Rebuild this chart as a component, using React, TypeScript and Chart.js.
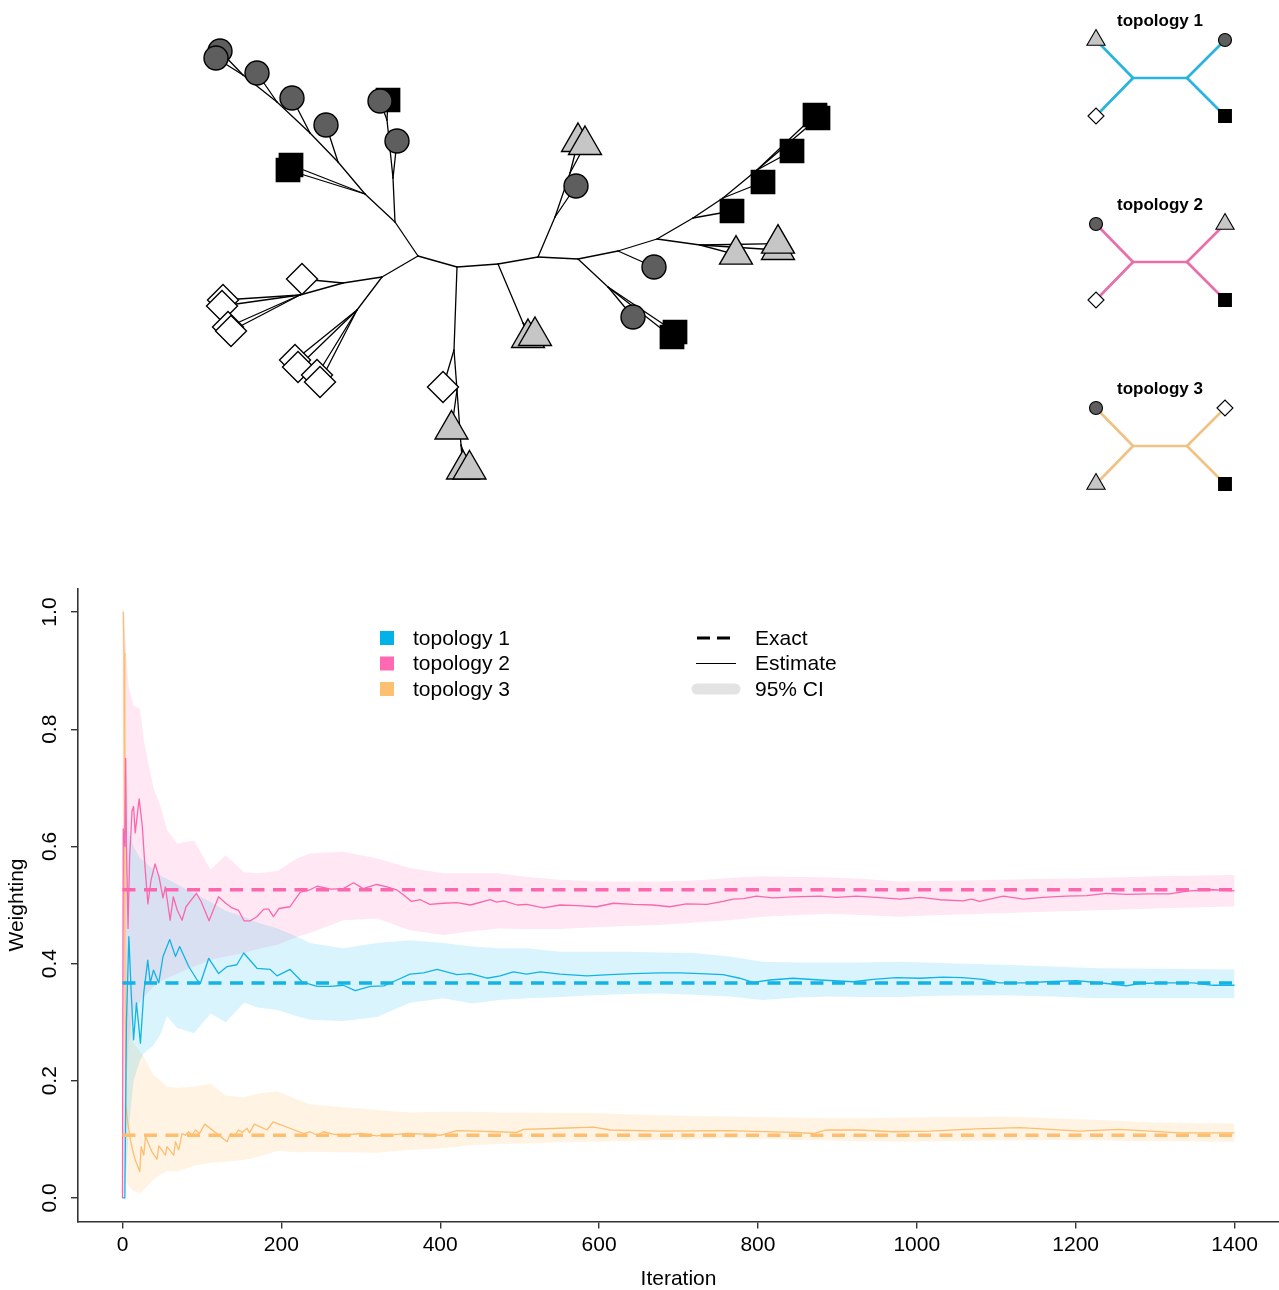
import React, { useEffect, useRef } from 'react';
import { Chart, registerables } from 'chart.js';
Chart.register(...registerables);

const FONT = '"Liberation Sans", Arimo, Arial, Helvetica, sans-serif';
const AXIS = '#333333';

// ---------------- weighting chart data ----------------
const xTickValues = [0, 200, 400, 600, 800, 1000, 1200, 1400];
const yTickValues = [0, 0.2, 0.4, 0.6, 0.8, 1.0];
const topologyNames = ['topology 1', 'topology 2', 'topology 3'];
const topologyColors = ['#12B4E5', '#FB67AE', '#FDBF6F'];
const legendSwatchColors = ['#00B2E8', '#FF69B4', '#FDC070'];
const bandColors = ['rgba(0,178,238,0.15)', 'rgba(255,105,180,0.16)', 'rgba(253,190,110,0.19)'];
const exactWeights = [0.367, 0.526, 0.107];
const styleLegendLabels = ['Exact', 'Estimate', '95% CI'];

const ciIterations = [0, 2, 5, 8, 14, 22, 27, 39, 48, 56, 69, 90, 111, 130, 153, 170, 195, 220, 236, 278, 320, 362, 404, 440, 474, 509, 551, 593, 635, 677, 719, 764, 806, 850, 890, 930, 978, 1030, 1106, 1170, 1230, 1300, 1400];
const ciUpper1 = [0, 0, 0.75, 0.62, 0.6, 0.58, 0.575, 0.56, 0.55, 0.545, 0.535, 0.52, 0.505, 0.49, 0.48, 0.47, 0.46, 0.446, 0.435, 0.426, 0.435, 0.44, 0.435, 0.429, 0.426, 0.426, 0.42, 0.42, 0.42, 0.419, 0.418, 0.412, 0.403, 0.402, 0.402, 0.402, 0.403, 0.401, 0.398, 0.395, 0.392, 0.391, 0.39];
const ciLower1 = [0, 0, 0.05, 0.12, 0.2, 0.235, 0.247, 0.26, 0.28, 0.31, 0.29, 0.281, 0.315, 0.3, 0.333, 0.325, 0.321, 0.31, 0.304, 0.302, 0.309, 0.333, 0.341, 0.332, 0.338, 0.341, 0.343, 0.346, 0.348, 0.349, 0.347, 0.344, 0.338, 0.342, 0.344, 0.343, 0.343, 0.345, 0.346, 0.344, 0.341, 0.341, 0.341];
const ciUpper2 = [1.0, 1.0, 0.92, 0.87, 0.84, 0.835, 0.78, 0.7, 0.668, 0.628, 0.605, 0.61, 0.56, 0.585, 0.556, 0.554, 0.558, 0.58, 0.588, 0.591, 0.58, 0.563, 0.554, 0.554, 0.554, 0.548, 0.543, 0.54, 0.54, 0.54, 0.542, 0.546, 0.549, 0.548, 0.547, 0.545, 0.54, 0.541, 0.543, 0.545, 0.546, 0.549, 0.551];
const ciLower2 = [0, 0, 0.2, 0.27, 0.32, 0.335, 0.344, 0.36, 0.37, 0.375, 0.383, 0.395, 0.406, 0.412, 0.418, 0.425, 0.432, 0.446, 0.452, 0.474, 0.477, 0.457, 0.449, 0.455, 0.46, 0.459, 0.459, 0.462, 0.464, 0.466, 0.47, 0.474, 0.48, 0.483, 0.485, 0.483, 0.48, 0.483, 0.486, 0.489, 0.491, 0.494, 0.498];
const ciUpper3 = [1.0, 0.95, 0.4, 0.32, 0.264, 0.25, 0.24, 0.21, 0.2, 0.19, 0.188, 0.19, 0.195, 0.175, 0.172, 0.178, 0.182, 0.168, 0.16, 0.155, 0.15, 0.146, 0.147, 0.147, 0.146, 0.146, 0.145, 0.145, 0.143, 0.141, 0.14, 0.139, 0.138, 0.137, 0.136, 0.136, 0.137, 0.138, 0.139, 0.136, 0.133, 0.129, 0.127];
const ciLower3 = [0.9, 0.6, 0.03, 0.02, 0.012, 0.008, 0.014, 0.031, 0.04, 0.046, 0.045, 0.055, 0.06, 0.062, 0.065, 0.07, 0.08, 0.078, 0.079, 0.078, 0.077, 0.082, 0.085, 0.09, 0.092, 0.093, 0.095, 0.096, 0.097, 0.099, 0.1, 0.102, 0.101, 0.099, 0.098, 0.097, 0.096, 0.097, 0.098, 0.099, 0.098, 0.097, 0.096];

// [iteration, estimate]
const estimate1 = [[0, 0], [3, 0], [5, 0.3], [8, 0.446], [11, 0.35], [14, 0.27], [17.6, 0.333], [22.6, 0.264], [26.8, 0.35], [31.8, 0.406], [35, 0.367], [39, 0.389], [45.7, 0.367], [51, 0.412], [59.5, 0.441], [66.7, 0.412], [72, 0.429], [83.4, 0.395], [94, 0.372], [98, 0.366], [108.6, 0.409], [121, 0.383], [131.7, 0.395], [144, 0.398], [152.6, 0.418], [169.4, 0.392], [186, 0.39], [194.6, 0.379], [211, 0.39], [226, 0.369], [245, 0.361], [261.6, 0.361], [278, 0.363], [293, 0.354], [312, 0.361], [329, 0.362], [345.5, 0.372], [362, 0.382], [379, 0.384], [396, 0.39], [421, 0.381], [438, 0.383], [459, 0.375], [475.5, 0.379], [492, 0.386], [509, 0.382], [526, 0.386], [551, 0.382], [584.5, 0.379], [614, 0.381], [643, 0.383], [677, 0.384], [702, 0.384], [727, 0.383], [756, 0.381], [777, 0.375], [794, 0.368], [815, 0.372], [844, 0.375], [878, 0.372], [920, 0.369], [945, 0.373], [974, 0.376], [1004, 0.375], [1033, 0.377], [1058, 0.376], [1083, 0.373], [1104, 0.367], [1138, 0.367], [1163, 0.369], [1201, 0.371], [1239, 0.366], [1264, 0.362], [1280, 0.366], [1314, 0.367], [1348, 0.367], [1373, 0.363], [1400, 0.363]];
const estimate2 = [[0, 0], [1, 0.63], [3, 0.6], [4, 0.75], [5, 0.6], [7, 0.46], [9, 0.58], [12, 0.66], [14, 0.668], [16, 0.623], [21, 0.681], [25, 0.634], [28, 0.571], [32, 0.502], [36, 0.543], [41, 0.57], [46, 0.548], [51, 0.512], [54, 0.531], [60, 0.474], [64, 0.514], [69, 0.491], [75, 0.474], [80, 0.497], [93, 0.52], [99, 0.506], [109, 0.473], [121, 0.514], [130, 0.503], [138, 0.495], [146, 0.491], [153, 0.473], [161, 0.473], [169, 0.48], [178, 0.493], [184, 0.493], [190, 0.48], [197, 0.494], [211, 0.497], [218, 0.511], [224, 0.522], [236, 0.526], [245, 0.532], [262, 0.527], [278, 0.528], [291, 0.538], [303, 0.528], [320, 0.535], [333, 0.531], [345, 0.526], [354, 0.517], [364, 0.506], [375, 0.509], [387, 0.501], [404, 0.503], [421, 0.504], [438, 0.5], [463, 0.509], [471, 0.505], [480, 0.507], [497, 0.5], [509, 0.501], [530, 0.495], [551, 0.5], [572, 0.499], [597, 0.497], [618, 0.503], [643, 0.501], [668, 0.5], [689, 0.497], [710, 0.502], [736, 0.501], [756, 0.506], [769, 0.51], [782, 0.511], [798, 0.515], [819, 0.512], [844, 0.514], [878, 0.515], [899, 0.513], [924, 0.515], [949, 0.513], [979, 0.51], [1004, 0.513], [1029, 0.509], [1058, 0.507], [1069, 0.51], [1079, 0.506], [1109, 0.515], [1134, 0.51], [1159, 0.513], [1188, 0.515], [1214, 0.516], [1239, 0.52], [1264, 0.518], [1293, 0.519], [1318, 0.519], [1343, 0.524], [1373, 0.526], [1400, 0.524]];
const estimate3 = [[0, 1.0], [1, 1.0], [2, 0.93], [3, 0.4], [4, 0.16], [7, 0.125], [10, 0.099], [13, 0.08], [16, 0.065], [21.8, 0.045], [23.5, 0.0875], [26.8, 0.073], [29, 0.105], [37, 0.079], [43.6, 0.066], [45.7, 0.089], [54, 0.073], [56, 0.0875], [64.5, 0.073], [66.7, 0.096], [70.8, 0.082], [75, 0.11], [79, 0.107], [83.4, 0.113], [87.6, 0.107], [91.8, 0.116], [97, 0.11], [103.5, 0.126], [131.7, 0.096], [136, 0.11], [141, 0.106], [146, 0.116], [151, 0.112], [156.8, 0.119], [160, 0.111], [166, 0.126], [182, 0.116], [189.6, 0.13], [228, 0.11], [236, 0.113], [245, 0.107], [253, 0.113], [265, 0.109], [278, 0.107], [300, 0.11], [320, 0.106], [340, 0.108], [360, 0.11], [379, 0.109], [400, 0.107], [421, 0.115], [446, 0.114], [470, 0.113], [496.5, 0.112], [505, 0.117], [551, 0.119], [593, 0.121], [614, 0.116], [677, 0.114], [761, 0.115], [844, 0.112], [870, 0.11], [886, 0.116], [928, 0.116], [970, 0.113], [1016, 0.114], [1075, 0.118], [1130, 0.12], [1205, 0.114], [1255, 0.117], [1331, 0.111], [1400, 0.111]];

// ---------------- tree data (drawing units) ----------------
// [id, parent, x, y]
const treeNodes = [
  ['A', null, 418, 256], ['B', 'A', 457, 267], ['C', 'B', 498, 264], ['D', 'C', 538, 257],
  ['E', 'D', 578, 259], ['F', 'E', 618, 251], ['G', 'F', 657, 239],
  ['I', 'A', 395, 222], ['I2', 'I', 393, 178], ['I3', 'I2', 387, 120],
  ['J', 'I', 365, 194], ['K', 'J', 338, 162], ['K2', 'K', 310, 133], ['K3', 'K2', 277, 102], ['K4', 'K3', 243, 75],
  ['L', 'A', 382, 277], ['M', 'L', 343, 283], ['N', 'M', 300, 295], ['O', 'L', 357, 310],
  ['P', 'B', 454, 350], ['P2', 'P', 457, 390], ['P3', 'P2', 461, 445],
  ['C2', 'C', 523, 323], ['D2', 'D', 555, 217], ['D3', 'D2', 570, 173],
  ['E2', 'E', 608, 287], ['G2', 'G', 700, 245],
  ['H', 'G', 693, 218], ['H2', 'H', 723, 198], ['H3', 'H2', 757, 170],
];
// [parent, x, y, shape]
const treeTips = [
  ['I2', 397, 141, 'circle'], ['I3', 388, 100, 'square'], ['I3', 380, 101, 'circle'],
  ['J', 291, 165, 'square'], ['J', 288, 170, 'square'],
  ['K', 326, 125, 'circle'], ['K2', 292, 98, 'circle'], ['K3', 257, 73, 'circle'],
  ['K4', 220, 51, 'circle'], ['K4', 216, 58, 'circle'],
  ['M', 302, 279, 'diamond'],
  ['N', 223, 300, 'diamond'], ['N', 222, 306, 'diamond'], ['N', 228, 327, 'diamond'], ['N', 231, 331, 'diamond'],
  ['O', 295, 360, 'diamond'], ['O', 298, 367, 'diamond'], ['O', 317, 375, 'diamond'], ['O', 320, 382, 'diamond'],
  ['P', 443, 387, 'diamond'], ['P2', 451.5, 429.5, 'triangle'], ['P3', 463, 469.5, 'triangle'], ['P3', 469.5, 469.5, 'triangle'],
  ['C2', 528, 338, 'triangle'], ['C2', 535, 336, 'triangle'],
  ['D2', 576, 186, 'circle'], ['D3', 578, 142, 'triangle'], ['D3', 585, 145, 'triangle'],
  ['E2', 633, 317, 'circle'], ['E2', 672, 337, 'square'], ['E2', 675, 332, 'square'],
  ['F', 654, 267, 'circle'],
  ['G2', 736, 254.6, 'triangle'], ['G2', 778, 250, 'triangle'], ['G2', 778, 243.6, 'triangle'],
  ['H', 732, 211, 'square'], ['H2', 763, 182, 'square'], ['H3', 792, 151, 'square'],
  ['H3', 815, 115, 'square'], ['H3', 818, 118, 'square'],
];

// small topology diagrams: tips ordered [top-left, bottom-left, top-right, bottom-right]
const topoTipShapes = [
  ['triangle', 'diamond', 'circle', 'square'],
  ['circle', 'diamond', 'triangle', 'square'],
  ['circle', 'triangle', 'diamond', 'square'],
];
const topoCentreY = [78, 262, 446];
const topoInnerX = [1133, 1187];
const topoTipX = [1096, 1225];
const topoTipDY = 38;
const topoTitleX = 1160;
const topoTitleDY = -57;
const thumbColors = ['#2AB4DD', '#E96FAA', '#EEC385'];

const shapeStyles = {
  circle: { style: 'circle', fill: '#5E5E5E', r: 12, rs: 6.5 },
  square: { style: 'rect', fill: '#000000', r: 16.5, rs: 9 },
  triangle: { style: 'triangle', fill: '#C6C6C6', r: 19, rs: 10.5 },
  diamond: { style: 'rectRot', fill: '#FFFFFF', r: 15.5, rs: 8 },
};

function makeEdge(x1: number, y1: number, x2: number, y2: number, color: string, width: number) {
  return {
    data: [{ x: x1, y: y1 }, { x: x2, y: y2 }],
    borderColor: color,
    borderWidth: width,
    borderCapStyle: 'round',
    pointRadius: 0,
    showLine: true,
    fill: false,
    tension: 0,
    order: 2,
  };
}

function TreeChart() {
  const ref = useRef<HTMLCanvasElement>(null);
  useEffect(() => {
    const nodeIndex = new Map(treeNodes.map((n: any) => [n[0], n]));
    const datasets: any[] = [];
    treeNodes.forEach((n: any) => {
      if (!n[1]) return;
      const p: any = nodeIndex.get(n[1]);
      datasets.push(makeEdge(p[2], p[3], n[2], n[3], '#000000', 1.3));
    });
    treeTips.forEach((t: any) => {
      const p: any = nodeIndex.get(t[0]);
      datasets.push(makeEdge(p[2], p[3], t[1], t[2], '#000000', 1.3));
    });
    const tips: any[] = treeTips.map((t: any) => ({ x: t[1], y: t[2], shape: t[3], small: false }));
    topoCentreY.forEach((cy, k) => {
      const [ix1, ix2] = topoInnerX;
      const [lx, rx] = topoTipX;
      const col = thumbColors[k];
      datasets.push(makeEdge(ix1, cy, ix2, cy, col, 2.7));
      datasets.push(makeEdge(ix1, cy, lx, cy - topoTipDY, col, 2.7));
      datasets.push(makeEdge(ix1, cy, lx, cy + topoTipDY, col, 2.7));
      datasets.push(makeEdge(ix2, cy, rx, cy - topoTipDY, col, 2.7));
      datasets.push(makeEdge(ix2, cy, rx, cy + topoTipDY, col, 2.7));
      const pos = [[lx, cy - topoTipDY], [lx, cy + topoTipDY], [rx, cy - topoTipDY], [rx, cy + topoTipDY]];
      topoTipShapes[k].forEach((s, j) => tips.push({ x: pos[j][0], y: pos[j][1], shape: s, small: true }));
    });
    datasets.push({
      data: tips.map((t) => ({ x: t.x, y: t.y })),
      showLine: false,
      pointStyle: tips.map((t) => (shapeStyles as any)[t.shape].style),
      pointRadius: tips.map((t) => (t.small ? (shapeStyles as any)[t.shape].rs : (shapeStyles as any)[t.shape].r)),
      pointBackgroundColor: tips.map((t) => (shapeStyles as any)[t.shape].fill),
      pointBorderColor: '#000000',
      pointBorderWidth: tips.map((t) => (t.small ? 1.1 : 1.4)),
      order: 0,
      clip: false,
    });

    const titlePlugin = {
      id: 'topoTitles',
      afterDatasetsDraw(chart: any) {
        const { ctx, scales } = chart;
        ctx.save();
        ctx.font = `bold 17px ${FONT}`;
        ctx.fillStyle = '#000';
        ctx.textAlign = 'center';
        ctx.textBaseline = 'middle';
        topoCentreY.forEach((cy, k) => {
          ctx.fillText(topologyNames[k], scales.x.getPixelForValue(topoTitleX), scales.y.getPixelForValue(cy + topoTitleDY));
        });
        ctx.restore();
      },
    };

    const chart = new Chart(ref.current as HTMLCanvasElement, {
      type: 'line',
      data: { datasets },
      options: {
        responsive: false,
        animation: false,
        events: [],
        layout: { padding: 0, autoPadding: false },
        plugins: { legend: { display: false }, tooltip: { enabled: false } },
        scales: {
          x: { type: 'linear', min: 0, max: 1279, display: false },
          y: { type: 'linear', min: 0, max: 560, reverse: true, display: false },
        },
      },
      plugins: [titlePlugin],
    } as any);
    return () => chart.destroy();
  }, []);
  return <canvas ref={ref} width={1279} height={560} style={{ position: 'absolute', left: 0, top: 0 }} />;
}

function WeightChart() {
  const ref = useRef<HTMLCanvasElement>(null);
  useEffect(() => {
    const uppers = [ciUpper1, ciUpper2, ciUpper3];
    const lowers = [ciLower1, ciLower2, ciLower3];
    const estimates = [estimate1, estimate2, estimate3];
    const datasets: any[] = [];
    for (let k = 0; k < 3; k++) {
      datasets.push({
        data: ciIterations.map((x, i) => ({ x, y: lowers[k][i] })),
        borderWidth: 0, pointRadius: 0, fill: false, order: 3,
      });
      datasets.push({
        data: ciIterations.map((x, i) => ({ x, y: uppers[k][i] })),
        borderWidth: 0, pointRadius: 0, fill: '-1', backgroundColor: bandColors[k], order: 3,
      });
    }
    for (let k = 0; k < 3; k++) {
      datasets.push({
        data: [{ x: 0, y: exactWeights[k] }, { x: 1400, y: exactWeights[k] }],
        borderColor: topologyColors[k], borderWidth: 3.5, borderDash: [13, 8.5],
        pointRadius: 0, fill: false, order: 1,
      });
    }
    for (let k = 0; k < 3; k++) {
      datasets.push({
        data: estimates[k].map((p) => ({ x: p[0], y: p[1] })),
        borderColor: topologyColors[k], borderWidth: 1.3, borderJoinStyle: 'round',
        pointRadius: 0, fill: false, tension: 0, order: 2,
      });
    }

    const legendPlugin = {
      id: 'customLegend',
      afterDraw(chart: any) {
        const ctx = chart.ctx;
        const rows = [78, 103.5, 129];
        ctx.save();
        ctx.font = `21px ${FONT}`;
        ctx.textBaseline = 'middle';
        ctx.textAlign = 'left';
        rows.forEach((y, i) => {
          ctx.fillStyle = legendSwatchColors[i];
          ctx.fillRect(380, y - 7, 14, 14);
          ctx.fillStyle = '#000';
          ctx.fillText(topologyNames[i], 413, y + 1);
          ctx.fillText(styleLegendLabels[i], 755, y + 1);
        });
        ctx.strokeStyle = '#000';
        ctx.lineWidth = 3;
        ctx.setLineDash([13, 7]);
        ctx.beginPath(); ctx.moveTo(697, rows[0]); ctx.lineTo(730, rows[0]); ctx.stroke();
        ctx.setLineDash([]);
        ctx.lineWidth = 1.2;
        ctx.beginPath(); ctx.moveTo(696, rows[1]); ctx.lineTo(736, rows[1]); ctx.stroke();
        ctx.strokeStyle = '#E3E3E3';
        ctx.lineWidth = 11;
        ctx.lineCap = 'round';
        ctx.beginPath(); ctx.moveTo(697, rows[2]); ctx.lineTo(735, rows[2]); ctx.stroke();
        ctx.restore();
      },
    };

    const chart = new Chart(ref.current as HTMLCanvasElement, {
      type: 'line',
      data: { datasets },
      options: {
        responsive: false,
        animation: false,
        events: [],
        layout: { padding: { top: 28.6, left: 0, right: 0, bottom: 0 }, autoPadding: false },
        plugins: {
          legend: { display: false },
          tooltip: { enabled: false },
          filler: { drawTime: 'beforeDatasetsDraw' },
        },
        scales: {
          x: {
            type: 'linear', min: -56, max: 1456,
            afterBuildTicks: (s: any) => { s.ticks = xTickValues.map((v) => ({ value: v })); },
            afterFit: (s: any) => { s.height = 68.6; },
            grid: { display: true, drawOnChartArea: false, drawTicks: true, tickLength: 7, color: AXIS, lineWidth: 1.4 },
            border: { display: true, color: AXIS, width: 1.6 },
            ticks: {
              autoSkip: false, maxRotation: 0, minRotation: 0, padding: 4, color: '#000',
              font: { family: FONT, size: 21, lineHeight: 1.2 },
              callback: (v: any) => String(v),
            },
            title: { display: true, text: 'Iteration', color: '#000', font: { family: FONT, size: 21, lineHeight: 1 }, padding: { top: 0, bottom: 0 } },
          },
          y: {
            type: 'linear', min: -0.04, max: 1.04,
            afterBuildTicks: (s: any) => { s.ticks = yTickValues.map((v) => ({ value: v })); },
            afterFit: (s: any) => { s.width = 78; },
            grid: { display: true, drawOnChartArea: false, drawTicks: true, tickLength: 7, color: AXIS, lineWidth: 1.4 },
            border: { display: true, color: AXIS, width: 1.6 },
            ticks: {
              autoSkip: false, minRotation: 90, maxRotation: 90, crossAlign: 'center', padding: 6, color: '#000',
              font: { family: FONT, size: 21, lineHeight: 1.2 },
              callback: (v: any) => Number(v).toFixed(1),
            },
            title: { display: true, text: 'Weighting', color: '#000', font: { family: FONT, size: 21, lineHeight: 1 }, padding: { top: 7, bottom: 0 } },
          },
        },
      },
      plugins: [legendPlugin],
    } as any);
    return () => chart.destroy();
  }, []);
  return <canvas ref={ref} width={1279} height={730} style={{ position: 'absolute', left: 0, top: 560 }} />;
}

export default function App() {
  return (
    <div style={{ position: 'absolute', left: 0, top: 0, width: 1279, height: 1290, background: '#ffffff' }}>
      <TreeChart />
      <WeightChart />
    </div>
  );
}
